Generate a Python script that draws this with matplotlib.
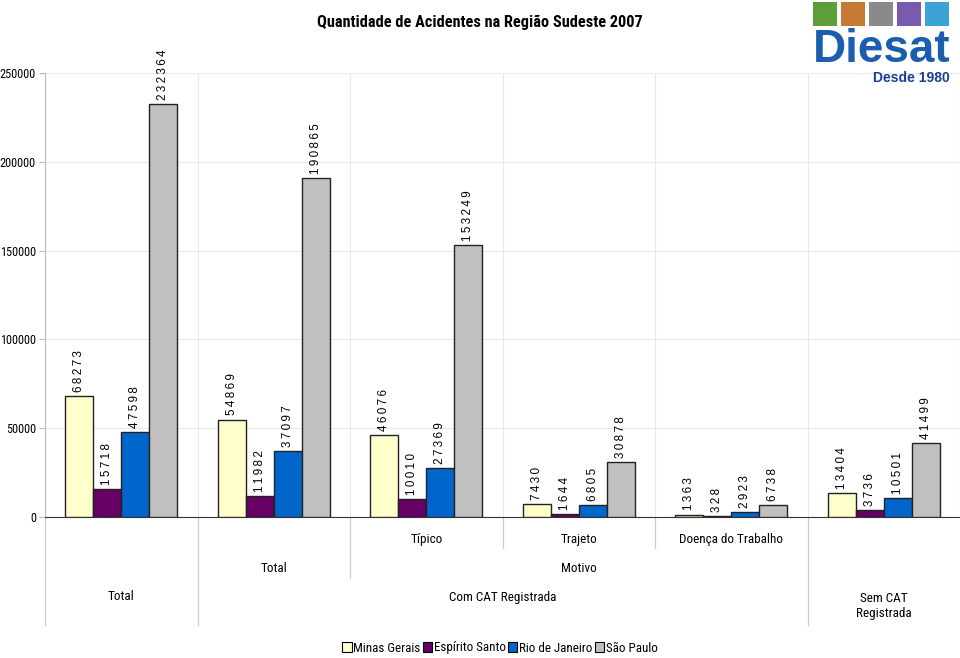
import numpy as np
import matplotlib
matplotlib.use('Agg')
import matplotlib.pyplot as plt
from matplotlib import font_manager
from matplotlib.patches import Rectangle

# dados
estados = ['Minas Gerais', 'Espírito Santo', 'Rio de Janeiro', 'São Paulo']
cores = ['#FFFFCC', '#660066', '#0066CC', '#C0C0C0']
categorias = ['Total', 'Total', 'Típico', 'Trajeto', 'Doença do Trabalho', 'Sem CAT']
minas = [68273, 54869, 46076, 7430, 1363, 13404]
espirito = [15718, 11982, 10010, 1644, 328, 3736]
rio = [47598, 37097, 27369, 6805, 2923, 10501]
sao_paulo = [232364, 190865, 153249, 30878, 6738, 41499]

nivel1 = [(2, 'Típico'), (3, 'Trajeto'), (4, 'Doença do Trabalho')]
nivel2 = [(1, 'Total'), (3, 'Motivo')]
nivel3 = [(0, 'Total'), (2.5, 'Com CAT Registrada'), (5, 'Sem CAT\nRegistrada')]

series = [minas, espirito, rio, sao_paulo]

nomes = {f.name for f in font_manager.fontManager.ttflist}
estreita = next((n for n in ['Roboto Condensed', 'Liberation Sans Narrow', 'Arial Narrow'] if n in nomes),
                'Liberation Sans')
fam = [estreita, 'Liberation Sans', 'DejaVu Sans']
plt.rcParams['font.family'] = fam

fig = plt.figure(figsize=(9.6, 6.58), dpi=100)
renderer = fig.canvas.get_renderer()


def tamanho(texto, alvo_px, peso='normal', familia=None):
    """fontsize que deixa o texto com a largura alvo (px)"""
    t = fig.text(0, 0, texto, fontsize=10, fontweight=peso, family=familia or fam)
    bb = t.get_window_extent(renderer=renderer)
    t.remove()
    return 10.0 * alvo_px / bb.width


fs_cat = min(11, tamanho('Doença do Trabalho', 104))
fs_tick = min(10, tamanho('250000', 36))
fs_tit = min(13, tamanho('Quantidade de Acidentes na Região Sudeste 2007', 324, 'bold'))
fs_leg = min(11, tamanho('Rio de Janeiro', 73))

ax = fig.add_axes([45/960, 141/658, 915/960, 444/658])

x = np.arange(len(categorias))
w = 0.184
for j, (vals, cor, nome) in enumerate(zip(series, cores, estados)):
    pos = x + (j - 1.5) * w
    ax.bar(pos, vals, width=w, color=cor, edgecolor='#222222', linewidth=1.0, label=nome, zorder=3)
    for p, v in zip(pos, vals):
        ax.annotate('\u2009'.join(str(v)), (p, v), xytext=(0, 3), textcoords='offset points',
                    rotation=90, ha='center', va='bottom', fontsize=8.4,
                    family=['Liberation Sans', 'DejaVu Sans'], annotation_clip=False)

ax.set_xlim(-0.5, 5.5)
ax.set_ylim(0, 250000)
ax.set_yticks(np.arange(0, 250001, 50000))
ax.set_yticklabels([str(v) for v in range(0, 250001, 50000)], fontsize=fs_tick)
ax.set_xticks(np.arange(-0.5, 5.6, 1))
ax.set_xticklabels([])
ax.tick_params(axis='x', length=0)
ax.tick_params(axis='y', length=4, color='#bbbbbb', pad=2.5)
ax.grid(True, color='#e8e8e8', linewidth=0.8, zorder=0)
for s in ['top', 'right']:
    ax.spines[s].set_visible(False)
ax.spines['left'].set_color('#bbbbbb')
ax.spines['bottom'].set_color('#333333')

# eixo de categorias em varios niveis
tr = ax.get_xaxis_transform()
px = 1 / 444.0


def linha(xv, y_fim):
    ax.plot([xv, xv], [0, -(y_fim - 517) * px], transform=tr, color='#cccccc',
            linewidth=0.9, clip_on=False)


for xv in [2.5, 3.5]:
    linha(xv, 548)
linha(1.5, 578)
for xv in [-0.5, 0.5, 4.5]:
    linha(xv, 625)

for xv, t in nivel1:
    ax.text(xv, -(540 - 517) * px, t, transform=tr, ha='center', va='center', fontsize=fs_cat)
for xv, t in nivel2:
    ax.text(xv, -(568 - 517) * px, t, transform=tr, ha='center', va='center', fontsize=fs_cat)
for xv, t in nivel3:
    yy = 606 if '\n' in t else 597
    ax.text(xv, -(yy - 517) * px, t, transform=tr, ha='center', va='center', fontsize=fs_cat,
            linespacing=1.2)

fig.text(480/960, 1 - 22/658, 'Quantidade de Acidentes na Região Sudeste 2007', ha='center',
         va='center', fontsize=fs_tit, fontweight='bold')

leg = fig.legend(loc='center', bbox_to_anchor=(500/960, 1 - 648/658), ncol=4, frameon=False,
                 fontsize=fs_leg, handlelength=0.7, handleheight=0.7, handletextpad=0.12,
                 columnspacing=0.2, borderpad=0)
for h in leg.legend_handles:
    h.set_edgecolor('black')
    h.set_linewidth(0.8)

# logo Diesat
cores_logo = ['#5E9E3A', '#C47A32', '#8A8A8A', '#7A5AAE', '#3DA2D6']
for i, c in enumerate(cores_logo):
    fig.patches.append(Rectangle(((813 + i * 28) / 960, 1 - 26/658), 24/960, 24/658,
                                 transform=fig.transFigure, facecolor=c, edgecolor='none'))
fig.text(882/960, 1 - 50/658, 'Diesat', ha='center', va='center', fontsize=33,
         fontweight='bold', color='#1B5EB0', family=['Liberation Sans', 'DejaVu Sans'])
fig.text(950/960, 1 - 78/658, 'Desde 1980', ha='right', va='center', fontsize=10,
         fontweight='bold', color='#1B3F8F', family=['Liberation Sans', 'DejaVu Sans'])

fig.savefig('out.png', dpi=100)
